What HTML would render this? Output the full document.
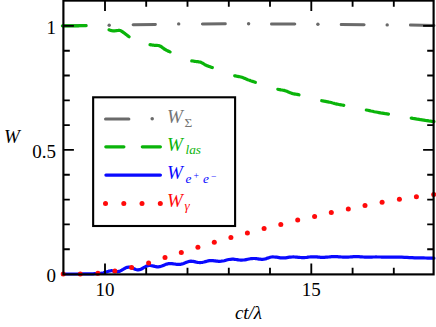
<!DOCTYPE html>
<html><head><meta charset="utf-8"><title>W vs ct/lambda</title>
<style>html,body{margin:0;padding:0;background:#fff;font-family:"Liberation Serif",serif;}svg{display:block;}</style></head>
<body>
<svg width="436" height="327" viewBox="0 0 436 327">
<rect width="436" height="327" fill="#fff"/>
<g fill="none" stroke-linecap="round" stroke-linejoin="round">
<path d="M63.8,25.7 L86.1,25.5 M133.1,24.8 L155.4,24.4 M202.4,23.9 L225.3,23.8 M271.5,24.0 L294.8,24.1 M341.2,24.5 L364.1,24.7 M410.4,25.1 L434.0,25.4" stroke="#6a6a6a" stroke-width="3.0"/>
<path d="M62.4,25.8 L63.4,25.8 L64.7,25.8 L66.2,25.8 L67.9,25.8 L69.7,25.8 L71.6,25.8 L73.3,25.8 L75.0,25.8 L76.6,25.8 L78.2,25.8 L79.7,25.7 L81.3,25.7 L82.9,25.7 L84.4,25.7 L85.9,25.7 M109.0,29.8 L109.3,29.9 L109.7,30.0 L110.0,30.2 L110.3,30.3 L110.6,30.4 L111.0,30.5 L111.4,30.6 L111.8,30.7 L112.1,30.7 L112.5,30.8 L112.9,30.8 L113.2,30.9 L113.6,30.9 L114.0,30.9 L114.4,30.9 L114.9,30.8 L115.3,30.8 L115.8,30.7 L116.2,30.7 L116.7,30.6 L117.1,30.5 L117.5,30.5 L117.9,30.5 L118.2,30.4 L118.5,30.4 L118.8,30.4 L119.1,30.4 L119.4,30.4 L119.7,30.4 L120.0,30.5 L120.3,30.6 L120.6,30.7 L120.9,30.8 L121.2,31.0 L121.5,31.2 L121.8,31.4 L122.1,31.6 L122.5,31.8 L122.9,32.1 L123.3,32.4 L123.7,32.7 L124.2,33.0 L124.7,33.4 L125.1,33.7 L125.6,34.1 L126.0,34.4 L126.4,34.7 L126.9,35.1 L127.4,35.4 L127.8,35.8 L128.3,36.1 L128.7,36.5 L129.1,36.8 L129.1,36.8 M150.0,44.7 L150.1,44.7 L150.8,44.8 L151.5,44.9 L152.1,45.0 L152.7,45.1 L153.3,45.1 L153.8,45.2 L154.3,45.3 L154.8,45.3 L155.2,45.3 L155.6,45.3 L155.9,45.3 L156.3,45.3 L156.6,45.4 L157.0,45.4 L157.4,45.4 L157.7,45.5 L158.1,45.5 L158.4,45.6 L158.8,45.6 L159.1,45.7 L159.5,45.8 L159.8,45.9 L160.1,46.1 L160.5,46.2 L160.8,46.4 L161.2,46.7 L161.5,46.9 L161.8,47.1 L162.2,47.4 L162.5,47.6 L162.8,47.8 L163.1,48.0 L163.4,48.3 L163.7,48.5 L164.0,48.7 L164.3,49.0 L164.7,49.2 L165.0,49.4 L165.3,49.6 L165.7,49.8 L166.1,50.0 L166.4,50.2 L166.8,50.4 L167.2,50.6 L167.6,50.8 L168.0,51.0 L168.4,51.2 L168.7,51.3 L169.1,51.5 L169.4,51.6 L169.8,51.8 L170.1,51.9 M191.7,60.9 L191.9,60.9 L192.7,61.0 L193.4,61.1 L194.0,61.2 L194.7,61.3 L195.3,61.4 L196.0,61.5 L196.6,61.6 L197.3,61.7 L197.9,61.7 L198.5,61.8 L199.0,61.9 L199.6,62.0 L200.2,62.1 L200.8,62.3 L201.4,62.6 L202.0,62.9 L202.6,63.2 L203.3,63.6 L203.9,64.0 L204.5,64.4 L205.0,64.7 L205.6,65.0 L206.1,65.3 L206.6,65.5 L207.1,65.7 L207.6,65.9 L208.0,66.0 L208.5,66.2 L209.0,66.4 L209.5,66.6 L210.0,66.8 L210.4,66.9 L210.9,67.1 L211.3,67.2 L211.8,67.4 L212.4,67.6 M234.7,75.8 L235.5,75.9 L236.6,76.2 L237.7,76.4 L238.8,76.6 L239.8,76.8 L240.8,77.0 L241.8,77.3 L242.7,77.6 L243.6,77.9 L244.4,78.2 L245.2,78.6 L246.0,78.9 L246.8,79.3 L247.7,79.7 L248.6,80.0 L249.6,80.3 L250.5,80.7 L251.5,81.0 L252.6,81.4 L253.6,81.7 L254.7,82.1 L255.4,82.3 M277.8,89.3 L278.5,89.5 L279.7,89.7 L280.8,89.9 L281.9,90.0 L283.0,90.2 L284.1,90.4 L285.1,90.7 L286.0,91.0 L286.9,91.3 L287.8,91.7 L288.6,92.1 L289.4,92.4 L290.2,92.8 L291.1,93.1 L292.0,93.4 L293.0,93.7 L294.0,93.9 L295.0,94.1 L296.1,94.2 L297.2,94.4 L298.3,94.6 L299.0,94.8 M321.7,100.7 L322.8,100.9 L324.1,101.2 L325.4,101.4 L326.6,101.6 L327.8,101.8 L329.0,102.1 L330.1,102.3 L331.1,102.5 L332.0,102.8 L332.8,103.0 L333.7,103.2 L334.4,103.5 L335.2,103.7 L336.1,103.9 L337.0,104.1 L338.0,104.3 L338.9,104.5 L339.9,104.7 L341.0,104.8 L342.0,105.0 L343.1,105.2 L343.8,105.3 M366.3,110.0 L366.3,110.0 L367.8,110.3 L369.4,110.6 L371.0,111.0 L372.6,111.3 L374.2,111.7 L375.8,112.0 L377.4,112.3 L379.0,112.6 L380.6,112.9 L382.2,113.1 L383.9,113.4 L385.5,113.7 L387.0,113.9 L388.5,114.1 M411.2,118.1 L411.4,118.1 L412.9,118.4 L414.4,118.6 L415.9,118.9 L417.4,119.2 L419.0,119.4 L420.5,119.7 L422.0,119.9 L423.6,120.1 L425.3,120.4 L427.0,120.6 L428.8,120.9 L430.4,121.1 L431.8,121.3 L433.1,121.5 L434.0,121.6" stroke="#0ab40a" stroke-width="3.2"/>
<path d="M63.0,274.0 L64.9,274.0 L67.6,274.0 L70.7,274.0 L74.0,274.0 L77.2,274.0 L80.0,273.9 L82.5,273.9 L84.8,273.9 L87.1,273.9 L89.2,273.9 L91.2,273.8 L93.0,273.8 L94.7,273.7 L96.2,273.7 L97.5,273.6 L98.8,273.5 L99.9,273.4 L101.0,273.3 L102.0,273.2 L102.8,273.0 L103.5,272.8 L104.1,272.6 L104.8,272.4 L105.5,272.2 L106.3,272.0 L107.1,271.7 L107.8,271.5 L108.6,271.3 L109.3,271.0 L110.0,270.9 L110.6,270.8 L111.1,270.7 L111.5,270.7 L111.9,270.7 L112.4,270.8 L113.0,270.8 L113.7,270.9 L114.6,271.0 L115.5,271.2 L116.3,271.4 L117.1,271.5 L117.6,271.6 L119.0,271.4 L120.3,270.9 L121.7,270.2 L123.1,269.4 L124.5,268.5 L125.8,267.8 L127.2,267.3 L128.6,267.1 L129.8,267.2 L131.0,267.5 L132.2,268.0 L133.4,268.5 L134.6,269.0 L135.8,269.5 L137.0,269.8 L138.2,269.9 L139.6,269.7 L140.9,269.3 L142.3,268.5 L143.7,267.7 L145.1,266.9 L146.4,266.1 L147.8,265.7 L149.2,265.5 L150.3,265.5 L151.4,265.7 L152.6,265.9 L153.7,266.1 L154.8,266.4 L155.9,266.6 L157.1,266.8 L158.2,266.8 L159.6,266.7 L161.0,266.3 L162.5,265.8 L163.9,265.2 L165.3,264.6 L166.8,264.1 L168.2,263.7 L169.6,263.6 L170.8,263.6 L172.0,263.7 L173.2,263.8 L174.4,264.0 L175.7,264.2 L176.9,264.3 L178.1,264.4 L179.3,264.4 L180.8,264.3 L182.2,263.9 L183.7,263.4 L185.2,262.8 L186.6,262.2 L188.1,261.7 L189.5,261.3 L191.0,261.2 L192.1,261.3 L193.2,261.4 L194.3,261.6 L195.4,261.9 L196.6,262.2 L197.7,262.4 L198.8,262.5 L199.9,262.6 L201.3,262.5 L202.7,262.3 L204.0,262.0 L205.4,261.6 L206.8,261.2 L208.2,260.9 L209.5,260.7 L210.9,260.6 L212.0,260.6 L213.1,260.7 L214.2,260.8 L215.2,260.9 L216.3,261.1 L217.4,261.2 L218.5,261.3 L219.6,261.3 L221.2,261.2 L222.8,261.0 L224.3,260.7 L225.9,260.2 L227.5,259.8 L229.0,259.5 L230.6,259.3 L232.2,259.2 L233.4,259.2 L234.6,259.3 L235.8,259.5 L237.0,259.6 L238.2,259.8 L239.4,260.0 L240.6,260.1 L241.8,260.1 L243.3,260.0 L244.7,259.9 L246.2,259.6 L247.7,259.3 L249.1,259.0 L250.6,258.7 L252.0,258.6 L253.5,258.5 L254.6,258.5 L255.8,258.6 L256.9,258.7 L258.0,258.9 L259.1,259.1 L260.2,259.2 L261.4,259.3 L262.5,259.3 L263.8,259.2 L265.1,259.0 L266.4,258.6 L267.6,258.1 L268.9,257.7 L270.2,257.3 L271.5,257.0 L272.8,256.9 L274.1,257.0 L275.4,257.1 L276.6,257.2 L277.9,257.4 L279.2,257.6 L280.4,257.8 L281.7,257.9 L283.0,257.9 L284.3,257.9 L285.6,257.8 L286.9,257.6 L288.2,257.4 L289.5,257.2 L290.8,257.1 L292.1,257.0 L293.4,256.9 L294.6,257.0 L295.8,257.1 L297.0,257.2 L298.2,257.3 L299.4,257.4 L300.6,257.5 L301.8,257.6 L303.0,257.6 L304.3,257.6 L305.6,257.5 L306.9,257.4 L308.1,257.2 L309.4,257.0 L310.7,256.9 L312.0,256.8 L313.3,256.8 L314.5,256.8 L315.7,256.8 L316.9,256.9 L318.1,257.1 L319.4,257.2 L320.6,257.3 L321.8,257.3 L323.0,257.4 L324.4,257.3 L325.9,257.2 L327.4,257.1 L328.8,257.0 L330.2,256.8 L331.7,256.7 L333.2,256.6 L334.6,256.6 L336.0,256.6 L337.4,256.7 L338.7,256.8 L340.1,256.9 L341.5,257.0 L342.9,257.1 L344.2,257.2 L345.6,257.2 L346.9,257.2 L348.2,257.2 L349.5,257.0 L350.8,256.9 L352.1,256.8 L353.4,256.7 L354.7,256.6 L356.0,256.6 L357.5,256.6 L358.9,256.7 L360.4,256.8 L361.9,256.9 L363.3,257.0 L364.8,257.2 L366.2,257.2 L367.7,257.2 L368.7,257.2 L369.8,257.2 L370.8,257.2 L371.9,257.1 L372.9,257.0 L373.9,257.0 L375.0,257.0 L376.0,256.9 L377.1,257.0 L378.2,257.0 L379.4,257.0 L380.5,257.0 L381.6,257.1 L382.8,257.1 L383.9,257.1 L385.0,257.1 L386.4,257.1 L387.9,257.1 L389.4,257.1 L390.8,257.1 L392.2,257.1 L393.7,257.1 L395.2,257.1 L396.6,257.1 L399.2,257.1 L401.8,257.2 L404.4,257.3 L407.0,257.4 L409.5,257.6 L412.1,257.7 L414.7,257.8 L417.3,257.8 L419.4,257.8 L421.4,257.9 L423.5,257.9 L425.6,258.0 L427.7,258.1 L429.8,258.1 L431.8,258.2 L433.9,258.2" stroke="#0a0aff" stroke-width="3.2"/>
</g>
<g fill="#6a6a6a"><circle cx="109.2" cy="25.3" r="1.7"/><circle cx="178.7" cy="23.9" r="1.7"/><circle cx="248.6" cy="23.8" r="1.7"/><circle cx="317.9" cy="24.3" r="1.7"/><circle cx="387.2" cy="24.9" r="1.7"/></g>
<g fill="#ff0a0a"><circle cx="63.2" cy="274.1" r="2.5"/><circle cx="80.3" cy="274.0" r="2.5"/><circle cx="97.9" cy="273.3" r="2.5"/><circle cx="114.9" cy="271.0" r="2.5"/><circle cx="131.6" cy="267.4" r="2.5"/><circle cx="148.6" cy="262.9" r="2.5"/><circle cx="165" cy="257.6" r="2.5"/><circle cx="181.3" cy="252.5" r="2.5"/><circle cx="197.9" cy="247.2" r="2.5"/><circle cx="214.3" cy="242.3" r="2.5"/><circle cx="230.9" cy="237.5" r="2.5"/><circle cx="247.4" cy="233.0" r="2.5"/><circle cx="264.1" cy="228.6" r="2.5"/><circle cx="280.8" cy="224.4" r="2.5"/><circle cx="297.7" cy="219.9" r="2.5"/><circle cx="314.6" cy="216.4" r="2.5"/><circle cx="331.3" cy="212.5" r="2.5"/><circle cx="348.3" cy="209.0" r="2.5"/><circle cx="365" cy="205.5" r="2.5"/><circle cx="382.1" cy="202.3" r="2.5"/><circle cx="399.4" cy="199.2" r="2.5"/><circle cx="416.4" cy="196.8" r="2.5"/><circle cx="433.7" cy="194.5" r="2.5"/></g>
<g fill="none" stroke="#000">
<path d="M105.0,274.4 V263.59999999999997 M105.0,0.6 V10.9 M146.2,274.4 V267.79999999999995 M146.2,0.6 V6.699999999999999 M187.5,274.4 V267.79999999999995 M187.5,0.6 V6.699999999999999 M228.8,274.4 V267.79999999999995 M228.8,0.6 V6.699999999999999 M270.0,274.4 V267.79999999999995 M270.0,0.6 V6.699999999999999 M311.3,274.4 V263.59999999999997 M311.3,0.6 V10.9 M352.6,274.4 V267.79999999999995 M352.6,0.6 V6.699999999999999 M393.8,274.4 V267.79999999999995 M393.8,0.6 V6.699999999999999 M63.4,249.2 H69.8 M433.6,249.2 H427.20000000000005 M63.4,224.4 H69.8 M433.6,224.4 H427.20000000000005 M63.4,199.6 H69.8 M433.6,199.6 H427.20000000000005 M63.4,174.7 H69.8 M433.6,174.7 H427.20000000000005 M63.4,149.9 H73.9 M433.6,149.9 H423.1 M63.4,125.1 H69.8 M433.6,125.1 H427.20000000000005 M63.4,100.3 H69.8 M433.6,100.3 H427.20000000000005 M63.4,75.5 H69.8 M433.6,75.5 H427.20000000000005 M63.4,50.7 H69.8 M433.6,50.7 H427.20000000000005 M63.4,25.8 H73.9 M433.6,25.8 H423.1" stroke-width="1.85"/>
<rect x="63.4" y="0.6" width="370.20000000000005" height="273.79999999999995" stroke-width="2.15"/>
</g>
<rect x="93.15" y="97.3" width="141.95" height="128.7" fill="#fff" stroke="#000" stroke-width="2.1"/>
<g fill="none" stroke-linecap="round">
<path d="M105.5,118.9 H128.9" stroke="#6a6a6a" stroke-width="3.0"/>
<path d="M105.8,146.8 H123.9 M142.3,146.8 H160.4" stroke="#0ab40a" stroke-width="3.2"/>
<path d="M105.9,175.1 H160.4" stroke="#0a0aff" stroke-width="3.2"/>
</g>
<circle cx="152.2" cy="118.8" r="1.75" fill="#6a6a6a"/>
<g fill="#ff0a0a"><circle cx="105.5" cy="203.45" r="2.5"/><circle cx="123.8" cy="203.45" r="2.5"/><circle cx="142.0" cy="203.45" r="2.5"/><circle cx="160.3" cy="203.45" r="2.5"/></g>
<g font-family="'Liberation Serif', serif" font-size="19">
<text x="56" y="282" text-anchor="end" fill="#000">0</text>
<text x="56" y="33.9" text-anchor="end" fill="#000">1</text>
<text x="56" y="158" text-anchor="end" fill="#000">0.5</text>
<text x="105" y="296.4" text-anchor="middle" fill="#000">10</text>
<text x="311.3" y="296.4" text-anchor="middle" fill="#000">15</text>
<text x="4" y="143.4" font-style="italic" fill="#000">W</text>
<text x="248.5" y="319.3" text-anchor="middle" font-style="italic" fill="#000">ct/λ</text>
<text x="167" y="123.1" font-style="italic" fill="#747474">W</text>
<text x="167" y="151.2" font-style="italic" fill="#0ab40a">W</text>
<text x="167" y="179.1" font-style="italic" fill="#0a0aff">W</text>
<text x="167" y="207.1" font-style="italic" fill="#ff0a0a">W</text>
<text x="184.5" y="126.7" font-size="13.3" fill="#747474">Σ</text>
<text x="185.5" y="154.2" font-size="13.3" font-style="italic" fill="#0ab40a">las</text>
<text x="185.5" y="183" font-size="13.3" font-style="italic" fill="#0a0aff">e</text>
<text x="193.5" y="179.4" font-size="9.6" fill="#0a0aff">+</text>
<text x="203" y="183" font-size="13.3" font-style="italic" fill="#0a0aff">e</text>
<text x="211" y="179.6" font-size="9.6" fill="#0a0aff">−</text>
<text x="184.5" y="209.7" font-size="13.3" font-style="italic" fill="#ff0a0a">γ</text>
</g>
</svg>
</body></html>
